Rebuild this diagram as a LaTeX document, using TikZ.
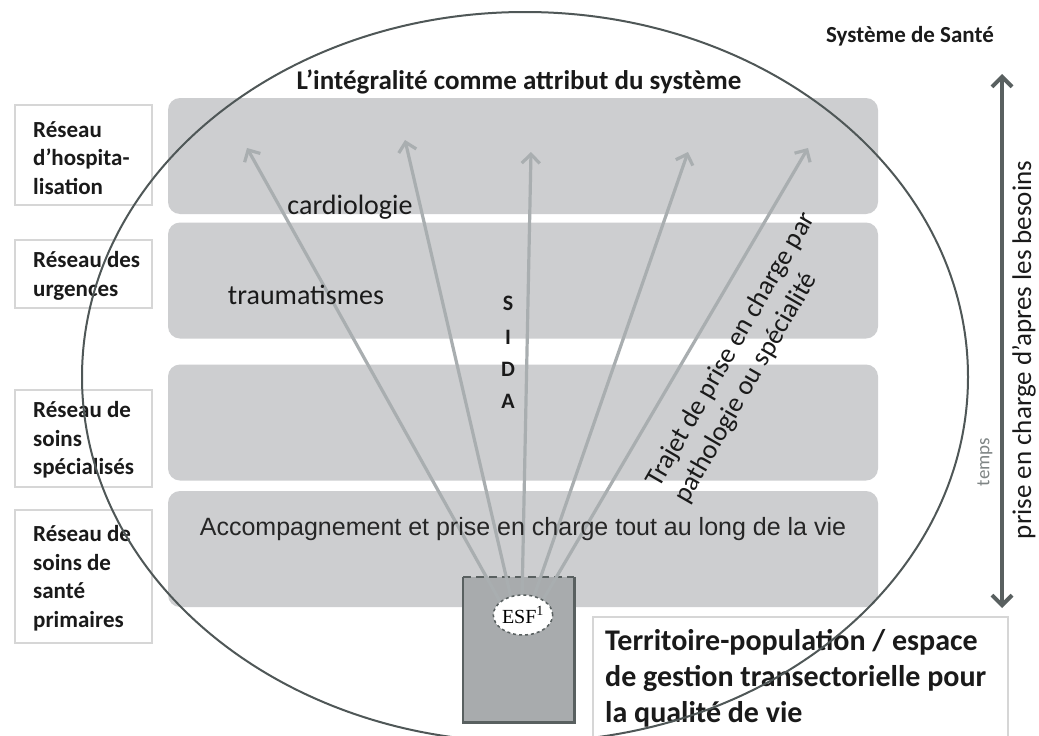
\documentclass[tikz,border=0pt]{standalone}
\usepackage{fontspec}
\setmainfont{Carlito}
\newfontfamily\arialf{Liberation Sans}
\newfontfamily\timesf{Liberation Serif}
\usetikzlibrary{arrows.meta,shapes.geometric}
\definecolor{bandgray}{HTML}{CDCED0}
\definecolor{boxgray}{HTML}{D6D6D6}
\definecolor{arrgray}{HTML}{A9AEB0}
\definecolor{ringgray}{HTML}{4F5757}
\definecolor{esffill}{HTML}{A8ABAD}
\definecolor{esfline}{HTML}{596060}
\definecolor{txt}{HTML}{1A1A1A}
\definecolor{tempsgray}{HTML}{7F8585}
\begin{document}
\begin{tikzpicture}[x=1pt,y=-1pt,
  bandbox/.style={fill=bandgray, rounded corners=12pt, minimum width=710pt, minimum height=116pt, inner sep=0pt},
  lbox/.style={draw=boxgray, line width=2pt, fill=white, inner sep=0pt, minimum width=137pt},
  lbl/.style={font=\bfseries\fontsize{23}{28.5}\selectfont, align=left, anchor=west, inner sep=0pt, text=txt},
  word/.style={font=\fontsize{28}{32}\selectfont, inner sep=0pt, text=txt},
  bword/.style={font=\bfseries\fontsize{22}{26}\selectfont, inner sep=0pt, text=txt},
  arr/.style={draw=arrgray, line width=3.2pt, -{Straight Barb[length=9pt,width=18pt]}},
  darr/.style={draw=esfline, line width=4pt, {Straight Barb[length=10pt,width=20pt]}-{Straight Barb[length=10pt,width=20pt]}},
  ring/.style={draw=ringgray, line width=2pt},
  esfline/.style={draw=esfline, line width=2.5pt}
]
\useasboundingbox (0,0) rectangle (1039,736);
\fill[white] (0,0) rectangle (1039,736);

% bands
\node[bandbox] (b1) at (523,156) {};
\node[bandbox] (b2) at (523,280.5) {};
\node[bandbox] (b3) at (523,422.5) {};
\node[bandbox] (b4) at (523,549) {};

% left labels
\node[lbox, minimum height=100pt] (l1) at (83.5,155) {};
\node[lbl] (t1) at (33,158) {Réseau\\d’hospita-\\lisation};
\node[lbox, minimum height=68pt] (l2) at (83.5,274) {};
\node[lbl] (t2) at (33,276) {Réseau des\\urgences};
\node[lbox, minimum height=97pt] (l3) at (83.5,438.5) {};
\node[lbl] (t3) at (33,440) {Réseau de\\soins\\spécialisés};
\node[lbox, minimum height=133pt] (l4) at (83.5,576.5) {};
\node[lbl] (t4) at (33,578) {Réseau de\\soins de\\santé\\primaires};

% titles
\node[bword, font=\bfseries\fontsize{27}{30}\selectfont] (title) at (519,82) {L’intégralité comme attribut du système};
\node[bword, font=\bfseries\fontsize{23}{26}\selectfont] (sante) at (910,36) {Système de Santé};

% ESF box
\node[fill=esffill, minimum width=111pt, minimum height=145pt, inner sep=0pt, anchor=north west] (esf) at (463,577) {};
\draw[esfline] (esf.north west) -- (esf.south west) -- (esf.south east) -- (esf.north east);
\draw[esfline, dashed, dash pattern=on 8pt off 5pt] (esf.north west) -- (esf.north east);

% arrows
\coordinate (s1) at (502,605); \coordinate (a1) at (247,148);
\coordinate (s2) at (512,602); \coordinate (a2) at (405,140);
\coordinate (s3) at (522,600); \coordinate (a3) at (531,152);
\coordinate (s4) at (532,602); \coordinate (a4) at (688,152);
\coordinate (s5) at (540,605); \coordinate (a5) at (808,148);
\draw[arr] (s1) -- (a1);
\draw[arr] (s2) -- (a2);
\draw[arr] (s3) -- (a3);
\draw[arr] (s4) -- (a4);
\draw[arr] (s5) -- (a5);

\node[ellipse, draw=esfline, line width=1.5pt, dashed, fill=white, minimum width=54pt, minimum height=40pt, inner sep=0pt] (esfe) at (523,615) {\timesf\fontsize{20}{22}\selectfont ESF\textsuperscript{1}};

% words
\node[word] (cardio) at (350,207) {cardiologie};
\node[word] (trauma) at (306,295) {traumatismes};
\node[bword] (sS) at (508,303) {S};
\node[bword] (sI) at (508,337) {I};
\node[bword] (sD) at (508,369) {D};
\node[bword] (sA) at (508,401) {A};
\node[word, rotate=60, align=left, font=\fontsize{27}{32}\selectfont] (trajet) at (745,358) {Trajet de prise en charge par\\pathologie ou spécialité};
\node[inner sep=0pt, font=\arialf\fontsize{25}{30}\selectfont, text=black!85] (accomp) at (523,529) {Accompagnement et prise en charge tout au long de la vie};

% right arrow
\coordinate (ua) at (1002,74);
\coordinate (ub) at (1002,608);
\draw[darr] (ub) -- (ua);
\node[word, rotate=90, font=\fontsize{27}{30}\selectfont] (besoins) at (1024,350) {prise en charge d’apres les besoins};
\node[word, rotate=90, text=tempsgray, font=\fontsize{19}{21}\selectfont] (temps) at (985,462) {temps};

% territoire box
\node[lbox, minimum width=415pt, minimum height=150pt, anchor=north west] (terrbox) at (592,616) {};
\node[inner sep=0pt, anchor=north west, align=left, font=\bfseries\fontsize{30}{36}\selectfont, text=txt] (terr) at (605,629) {Territoire-population / espace\\de gestion transectorielle pour\\la qualité de vie};

% system ring
\draw[ring] (525,377) ellipse [x radius=443pt, y radius=365pt];
\end{tikzpicture}
\end{document}
